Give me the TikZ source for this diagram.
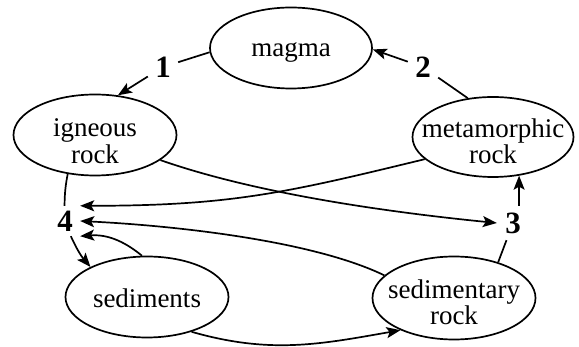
\documentclass[tikz,border=0pt]{standalone}
\usepackage{fontspec}
\setmainfont{Liberation Serif}
\newfontfamily\tnrfont{Liberation Serif}
\usetikzlibrary{shapes.geometric,arrows.meta}
\begin{document}
\begin{tikzpicture}[x=1pt,y=-1pt,
  ell/.style={ellipse,draw,line width=1.7pt,minimum width=162pt,minimum height=81pt,inner sep=0pt},
  lbl/.style={font=\tnrfont\fontsize{27}{26.5}\selectfont,align=center,inner sep=0pt},
  num/.style={font=\tnrfont\fontsize{31}{31}\selectfont\bfseries,minimum width=30pt,minimum height=30pt,inner sep=0pt},
  conn/.style={line width=1.7pt},
  arr/.style={conn,-{Stealth[length=14pt,width=11pt,inset=3pt]}}]
\useasboundingbox (0,0) rectangle (579,347);
% ellipses
\node[ell] (mag) at (291,48) {};
\node[ell,minimum width=163pt] (ign) at (95,135) {};
\node[ell,minimum width=161pt,minimum height=80pt] (met) at (493,137) {};
\node[ell,minimum width=163pt] (sed) at (147,297) {};
\node[ell,minimum width=163pt,minimum height=83pt] (sedr) at (454,298) {};
% texts
\node[lbl] (tmag) at (291,52) {magma};
\node[lbl] (tign) at (95,141) {igneous\\rock};
\node[lbl] (tmet) at (493,141.5) {metamorphic\\rock};
\node[lbl] (tsed) at (147,298) {sediments};
\node[lbl] (tsedr) at (454,302.5) {sedimentary\\rock};
% numbers
\node[num] (n1) at (163,67) {1};
\node[num] (n2) at (423,67) {2};
\node[num,minimum width=32pt,minimum height=34pt] (n3) at (513,223) {3};
\node[num] (n4) at (65,221) {4};
% connectors
\draw[conn] (mag.183) -- (n1);
\draw[arr] (n1) -- (ign.60);
\draw[conn] (met.123) -- (n2);
\draw[arr] (n2) -- (mag.359);
\draw[conn] (sedr.39) -- (n3);
\draw[arr] (met.304 |- n3.north) -- (met.304);
\draw[conn] (ign.235) to[bend right=5] (n4);
\draw[arr] (n4) to[bend right=8] (sed.152);
\draw[arr] (sed.97) to[bend right=22] (n4.south east);
\draw[arr] (met.198) .. controls +(-140,34) and +(150,0) .. (n4.north east);
\draw[arr] (sedr.162) .. controls +(-70,-34) and +(100,5) .. (n4.east);
\draw[arr] (ign.339) .. controls +(100,35) and +(-100,-10) .. (n3.west);
\draw[arr] (sed.322) to[out=-16,in=190] (sedr.211);
\end{tikzpicture}
\end{document}
